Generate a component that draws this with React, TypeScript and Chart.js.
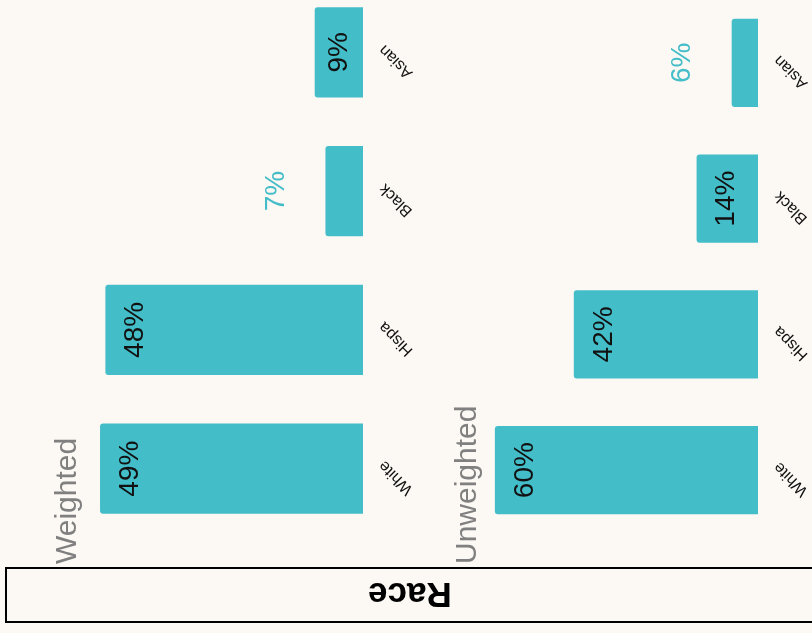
import React, { useEffect, useRef } from "react";
import { Chart, registerables } from "chart.js";

Chart.register(...registerables);

// ---- data ----
const categories = ["Asian", "Black", "Hispa", "White"];
const weightedValues = [9, 7, 48, 49];
const unweightedValues = [6, 14, 42, 60];
const panelTitles = ["Weighted", "Unweighted"];
const stripTitle = "Race";

// ---- style ----
const BG = "#fcf8f4";
const TEAL = "#43bdc8";
const FONT = "'Liberation Sans', Arial, Helvetica, sans-serif";
const CANVAS_TOP = -20;
const CANVAS_H = 653;

type PanelCfg = {
  values: number[];
  title: string;
  axisMax: number;
  padLeft: number;
  padRight: number;
  padTop: number;
  padBottom: number;
  titleX: number;
};

function labelPlugin(cfg: PanelCfg) {
  return {
    id: "panelLabels",
    afterDatasetsDraw(chart: any) {
      const ctx = chart.ctx as CanvasRenderingContext2D;
      const meta = chart.getDatasetMeta(0);
      const data = chart.data.datasets[0].data as number[];
      const base = chart.scales.x.getPixelForValue(0);
      meta.data.forEach((bar: any, i: number) => {
        const v = data[i];
        const end = bar.x;
        const y = bar.y;
        const width = base - end;
        // value label
        ctx.save();
        ctx.font = `28px ${FONT}`;
        let cx: number;
        let color: string;
        if (v < 8) {
          cx = end - 49;
          color = TEAL;
        } else {
          cx = end + Math.min(30, width / 2);
          color = "#111111";
        }
        ctx.translate(cx, y);
        ctx.rotate(-Math.PI / 2);
        ctx.textAlign = "center";
        ctx.textBaseline = "middle";
        ctx.fillStyle = color;
        ctx.fillText(`${v}%`, 0, 0);
        ctx.restore();
        // category label
        ctx.save();
        ctx.font = `16px ${FONT}`;
        ctx.translate(base + 33, y + 9);
        ctx.rotate((-3 * Math.PI) / 4);
        ctx.textAlign = "center";
        ctx.textBaseline = "middle";
        ctx.fillStyle = "#111111";
        ctx.fillText(chart.data.labels[i], 0, 0);
        ctx.restore();
      });
      // panel title
      ctx.save();
      ctx.font = `30px ${FONT}`;
      ctx.translate(cfg.titleX, 564 - CANVAS_TOP);
      ctx.rotate(-Math.PI / 2);
      ctx.textAlign = "left";
      ctx.textBaseline = "alphabetic";
      ctx.fillStyle = "#808080";
      ctx.fillText(cfg.title, 0, 0);
      ctx.restore();
    },
  };
}

function Panel({ cfg }: { cfg: PanelCfg }) {
  const ref = useRef<HTMLCanvasElement | null>(null);
  useEffect(() => {
    if (!ref.current) return;
    const chart = new Chart(ref.current, {
      type: "bar",
      data: {
        labels: categories,
        datasets: [
          {
            data: cfg.values,
            backgroundColor: TEAL,
            borderRadius: 3,
            borderSkipped: "start",
            barPercentage: 0.65,
            categoryPercentage: 1,
          },
        ],
      },
      options: {
        indexAxis: "y",
        animation: false,
        responsive: false,
        maintainAspectRatio: false,
        layout: {
          padding: {
            left: cfg.padLeft,
            right: cfg.padRight,
            top: cfg.padTop,
            bottom: cfg.padBottom,
          },
        },
        plugins: {
          legend: { display: false },
          tooltip: { enabled: false },
          title: { display: false },
        },
        scales: {
          x: { display: false, min: 0, max: cfg.axisMax, reverse: true },
          y: { display: false, offset: true },
        },
      },
      plugins: [labelPlugin(cfg)],
    } as any);
    return () => chart.destroy();
  }, [cfg]);
  return (
    <canvas
      ref={ref}
      width={812}
      height={CANVAS_H}
      style={{ position: "absolute", left: 0, top: CANVAS_TOP, width: 812, height: CANVAS_H }}
    />
  );
}

const weightedCfg: PanelCfg = {
  values: weightedValues,
  title: panelTitles[0],
  axisMax: 60,
  padLeft: 41,
  padRight: 812 - 363,
  padTop: 3,
  padBottom: 95,
  titleX: 76,
};

const unweightedCfg: PanelCfg = {
  values: unweightedValues,
  title: panelTitles[1],
  axisMax: 70,
  padLeft: 451,
  padRight: 812 - 758,
  padTop: 15,
  padBottom: 95,
  titleX: 476,
};

export default function App() {
  return (
    <div
      style={{
        position: "fixed",
        left: 0,
        top: 0,
        width: 812,
        height: 633,
        overflow: "hidden",
        background: BG,
      }}
    >
      <Panel cfg={weightedCfg} />
      <Panel cfg={unweightedCfg} />
      <div
        style={{
          position: "absolute",
          left: 5,
          top: 567,
          width: 810,
          height: 56,
          boxSizing: "border-box",
          border: "2px solid #000",
          display: "flex",
          alignItems: "center",
          justifyContent: "center",
        }}
      >
        <span
          style={{
            fontFamily: FONT,
            fontWeight: "bold",
            fontSize: 35,
            color: "#000",
            transform: "rotate(180deg)",
            lineHeight: "35px",
            display: "inline-block",
          }}
        >
          {stripTitle}
        </span>
      </div>
    </div>
  );
}
